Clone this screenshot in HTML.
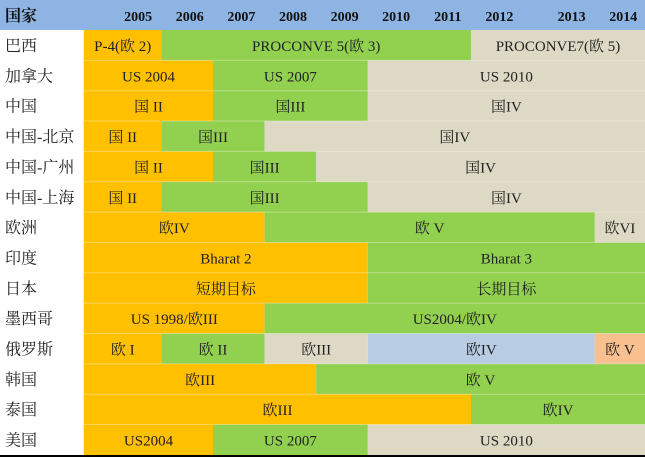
<!DOCTYPE html>
<html><head><meta charset="utf-8"><style>
body{margin:0;background:#fff;}
svg{display:block;font-family:"Liberation Serif","Noto Serif CJK SC",serif;}
</style></head><body>
<svg id="chart" width="645" height="457" viewBox="0 0 645 457"></svg>
<script>
const countries=["巴西","加拿大","中国","中国-北京","中国-广州","中国-上海","欧洲","印度","日本","墨西哥","俄罗斯","韩国","泰国","美国"];
const yearLabels=["2005","2006","2007","2008","2009","2010","2011","2012","2013","2014"];
const yearLabelPos=[2005.55,2006.55,2007.55,2008.55,2009.55,2010.55,2011.55,2012.55,2013.95,2014.95];
// segments per country: [start year, end year, label, colour key]
const seg0=[[2004.5,2006,"P-4(欧 2)","o"],[2006,2012,"PROCONVE 5(欧 3)","g"],[2012,2015.4,"PROCONVE7(欧 5)","b"]];
const seg1=[[2004.5,2007,"US 2004","o"],[2007,2010,"US 2007","g"],[2010,2015.4,"US 2010","b"]];
const seg2=[[2004.5,2007,"国 II","o"],[2007,2010,"国III","g"],[2010,2015.4,"国IV","b"]];
const seg3=[[2004.5,2006,"国 II","o"],[2006,2008,"国III","g"],[2008,2015.4,"国IV","b"]];
const seg4=[[2004.5,2007,"国 II","o"],[2007,2009,"国III","g"],[2009,2015.4,"国IV","b"]];
const seg5=[[2004.5,2006,"国 II","o"],[2006,2010,"国III","g"],[2010,2015.4,"国IV","b"]];
const seg6=[[2004.5,2008,"欧IV","o"],[2008,2014.4,"欧 V","g"],[2014.4,2015.4,"欧VI","b"]];
const seg7=[[2004.5,2010,"Bharat 2","o"],[2010,2015.4,"Bharat 3","g"]];
const seg8=[[2004.5,2010,"短期目标","o"],[2010,2015.4,"长期目标","g"]];
const seg9=[[2004.5,2008,"US 1998/欧III","o"],[2008,2015.4,"US2004/欧IV","g"]];
const seg10=[[2004.5,2006,"欧 I","o"],[2006,2008,"欧 II","g"],[2008,2010,"欧III","b"],[2010,2014.4,"欧IV","l"],[2014.4,2015.4,"欧 V","p"]];
const seg11=[[2004.5,2009,"欧III","o"],[2009,2015.4,"欧 V","g"]];
const seg12=[[2004.5,2012,"欧III","o"],[2012,2015.4,"欧IV","g"]];
const seg13=[[2004.5,2007,"US2004","o"],[2007,2010,"US 2007","g"],[2010,2015.4,"US 2010","b"]];
const segments=[seg0,seg1,seg2,seg3,seg4,seg5,seg6,seg7,seg8,seg9,seg10,seg11,seg12,seg13];

const colors={o:"#FFC000",g:"#92D050",b:"#DDD9C4",l:"#B8CCE4",p:"#FABF8F"};
const NS="http://www.w3.org/2000/svg";
const svg=document.getElementById("chart");
const x=t=>84+(t-2004.5)*51.6;
const rowH=30.35, top0=30;
const y=i=>top0+i*rowH;
function mk(tag,attrs){const e=document.createElementNS(NS,tag);for(const k in attrs)e.setAttribute(k,attrs[k]);svg.appendChild(e);return e;}

const hdr=mk("rect",{x:0,y:0,width:645,height:30,fill:"#8EB4E3"});


const ht=mk("text",{x:5,y:21,"font-size":16,"font-weight":"bold",fill:"#111"});ht.textContent="国家";


yearLabels.forEach((lab,k)=>{
  const t=mk("text",{x:x(yearLabelPos[k]),y:21,"font-size":14,"font-weight":"bold","text-anchor":"middle",fill:"#111"});
  t.textContent=lab;
  
  
});
const sep=mk("line",{x1:84,y1:30,x2:84,y2:455,stroke:"#ddd","stroke-width":1});



countries.forEach((c,i)=>{
  const lt=mk("text",{x:5,y:y(i)+21,"font-size":16,fill:"#222"});
  lt.textContent=c;
  
  
  segments[i].forEach(s=>{
    const r=mk("rect",{x:x(s[0]),y:y(i),width:x(s[1])-x(s[0]),height:rowH+0.5,fill:colors[s[3]]});
    
    
  });
  segments[i].forEach(s=>{
    const t=mk("text",{x:(x(s[0])+Math.min(x(s[1]),645))/2,y:y(i)+21,"font-size":15,"text-anchor":"middle",fill:"#222"});
    t.textContent=s[2];
    
    
  });
  if(i>0){
    const gl=mk("line",{x1:84,y1:y(i),x2:645,y2:y(i),stroke:"#fff","stroke-opacity":0.35,"stroke-width":1});
    
    
  }
});
const bb=mk("rect",{x:0,y:455,width:645,height:2,fill:"#000"});


</script>
</body></html>
